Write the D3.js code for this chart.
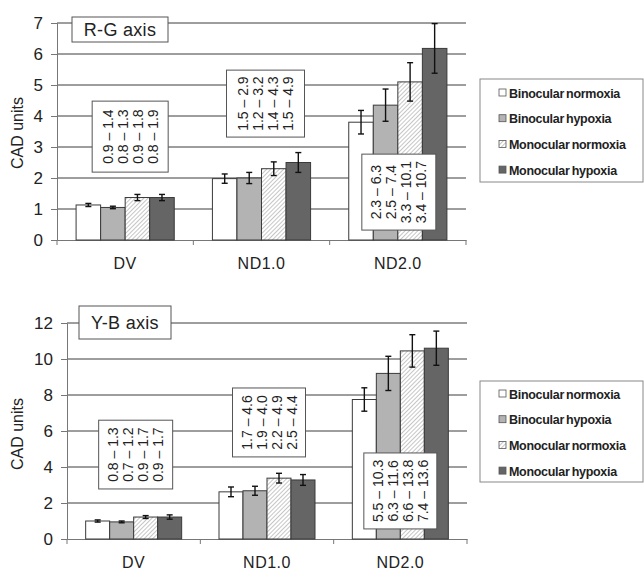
<!DOCTYPE html>
<html>
<head>
  <meta charset="utf-8">
  <title>CAD units</title>
  <script src="https://cdn.jsdelivr.net/npm/d3@7/dist/d3.min.js"></script>
  <style>
    body{ margin:0; background:#fff; }
    text{ font-family: "Liberation Sans", Arial, sans-serif; fill:#222; }
  </style>
</head>
<body>
<div id="container"></div>
<script>
  var categories = ["DV", "ND1.0", "ND2.0"];
  var series = ["Binocular normoxia", "Binocular hypoxia", "Monocular normoxia", "Monocular hypoxia"];

  // R-G axis: means and error (+/-) per category, per series
  var rgMeans = [[1.13, 1.05, 1.37, 1.37], [1.98, 2.0, 2.3, 2.5], [3.8, 4.35, 5.1, 6.18]];
  var rgErr   = [[0.05, 0.04, 0.1, 0.1], [0.15, 0.18, 0.22, 0.32], [0.38, 0.52, 0.62, 0.8]];
  var rgRanges = [["0.9 – 1.4", "0.8 – 1.3", "0.9 – 1.8", "0.8 – 1.9"],
                  ["1.5 – 2.9", "1.2 – 3.2", "1.4 – 4.3", "1.5 – 4.9"],
                  ["2.3 – 6.3", "2.5 – 7.4", "3.3 – 10.1", "3.4 – 10.7"]];
  var rgTicks = [0, 1, 2, 3, 4, 5, 6, 7];

  // Y-B axis
  var ybMeans = [[1.0, 0.95, 1.22, 1.22], [2.62, 2.68, 3.38, 3.28], [7.75, 9.2, 10.45, 10.6]];
  var ybErr   = [[0.06, 0.05, 0.08, 0.12], [0.27, 0.25, 0.27, 0.3], [0.65, 0.95, 0.9, 0.95]];
  var ybRanges = [["0.8 – 1.3", "0.7 – 1.2", "0.9 – 1.7", "0.9 – 1.7"],
                  ["1.7 – 4.6", "1.9 – 4.0", "2.2 – 4.9", "2.5 – 4.4"],
                  ["5.5 – 10.3", "6.3 – 11.6", "6.6 – 13.8", "7.4 – 13.6"]];
  var ybTicks = [0, 2, 4, 6, 8, 10, 12];

  var fills = ["#ffffff", "#b3b3b3", "url(#hatch)", "#656565"];

  var svg = d3.select("#container").append("svg")
      .attr("width", 644)
      .attr("height", 574);

  var defs = svg.append("defs");
  var pat = defs.append("pattern")
      .attr("id", "hatch")
      .attr("patternUnits", "userSpaceOnUse")
      .attr("width", 3).attr("height", 3)
      .attr("patternTransform", "rotate(45)");
  pat.append("rect").attr("width", 3).attr("height", 3).attr("fill", "#fff");
  pat.append("line").attr("x1", 0).attr("y1", 0).attr("x2", 0).attr("y2", 3)
      .attr("stroke", "#a0a0a0").attr("stroke-width", 1.2);

  function drawPanel(p){
    var g = svg.append("g");

    var x0 = d3.scaleBand().domain(categories).range([p.left, p.right]);
    var bw = x0.bandwidth();
    var x1 = d3.scaleBand().domain(series).range([bw * 0.14, bw * 0.86]);
    var y = d3.scaleLinear().domain([0, p.max]).range([p.bottom, p.top]);

    // gridlines
    g.selectAll(".grid").data(p.ticks.filter(function(d){ return d > 0; }))
      .enter().append("line")
      .attr("x1", p.left).attr("x2", p.right)
      .attr("y1", function(d){ return y(d); }).attr("y2", function(d){ return y(d); })
      .attr("stroke", "#3c3c3c").attr("stroke-width", 1);

    // y axis
    var yAxis = d3.axisLeft(y).tickValues(p.ticks).tickFormat(d3.format("d")).tickSize(6).tickPadding(8);
    var ya = g.append("g").attr("transform", "translate(" + p.left + ",0)").call(yAxis);
    ya.selectAll(".tick text").style("font-size", "17px").attr("fill", "#222");
    ya.selectAll(".tick line, .domain").attr("stroke", "#777");

    // x axis
    var xa = g.append("g").attr("transform", "translate(0," + p.bottom + ")")
      .call(d3.axisBottom(x0).tickSize(0).tickPadding(18));
    xa.select(".domain").attr("stroke", "#777");
    xa.selectAll(".tick text").style("font-size", "16px").style("letter-spacing", "0.5px").attr("fill", "#222");
    g.selectAll(".sep").data(categories.concat([null]))
      .enter().append("line")
      .attr("x1", function(d, i){ return p.left + i * bw; })
      .attr("x2", function(d, i){ return p.left + i * bw; })
      .attr("y1", p.bottom).attr("y2", p.bottom + 5)
      .attr("stroke", "#777");

    // bars
    var groups = g.selectAll(".grp").data(categories).enter().append("g")
      .attr("transform", function(d){ return "translate(" + x0(d) + ",0)"; });

    groups.each(function(c, ci){
      var gg = d3.select(this);
      var rows = series.map(function(s, si){
        return {s: s, i: si, v: p.means[ci][si], e: p.err[ci][si]};
      });
      gg.selectAll("rect").data(rows).enter().append("rect")
        .attr("x", function(d){ return x1(d.s); })
        .attr("width", x1.bandwidth())
        .attr("y", function(d){ return y(d.v); })
        .attr("height", function(d){ return y(0) - y(d.v); })
        .attr("fill", function(d){ return fills[d.i]; })
        .attr("stroke", "#3a3a3a").attr("stroke-width", 1);

      var eb = gg.selectAll(".err").data(rows).enter().append("g")
        .attr("stroke", "#111").attr("stroke-width", 1.4);
      eb.append("line")
        .attr("x1", function(d){ return x1(d.s) + x1.bandwidth() / 2; })
        .attr("x2", function(d){ return x1(d.s) + x1.bandwidth() / 2; })
        .attr("y1", function(d){ return y(d.v - d.e); })
        .attr("y2", function(d){ return y(d.v + d.e); });
      [-1, 1].forEach(function(k){
        eb.append("line")
          .attr("x1", function(d){ return x1(d.s) + x1.bandwidth() / 2 - 3; })
          .attr("x2", function(d){ return x1(d.s) + x1.bandwidth() / 2 + 3; })
          .attr("y1", function(d){ return y(d.v + k * d.e); })
          .attr("y2", function(d){ return y(d.v + k * d.e); });
      });
    });

    // range boxes with rotated text
    p.boxes.forEach(function(b, ci){
      var cx = x0(categories[ci]) + bw / 2 + b.dx;
      var yt = y(b.hi), yb = y(b.lo);
      g.append("rect")
        .attr("x", cx - b.w / 2).attr("y", yt)
        .attr("width", b.w).attr("height", yb - yt)
        .attr("fill", "#fff").attr("stroke", "#555").attr("stroke-width", 1);
      var cy = (yt + yb) / 2;
      p.ranges[ci].forEach(function(t, k){
        var tx = cx + (k - 1.5) * 15 + 5;
        g.append("text")
          .attr("transform", "translate(" + tx + "," + cy + ") rotate(-90)")
          .attr("text-anchor", "middle")
          .style("font-size", "14px")
          .text(t);
      });
    });

    // panel title
    g.append("rect")
      .attr("x", p.title.x).attr("y", p.title.y)
      .attr("width", p.title.w).attr("height", p.title.h)
      .attr("fill", "#fff").attr("stroke", "#555");
    g.append("text")
      .attr("x", p.title.x + p.title.w / 2).attr("y", p.title.y + p.title.h / 2 + 6)
      .attr("text-anchor", "middle")
      .style("font-size", "18px").style("letter-spacing", "0.3px")
      .text(p.name);

    // y label
    g.append("text")
      .attr("transform", "translate(23," + p.labelY + ") rotate(-90)")
      .attr("text-anchor", "middle")
      .style("font-size", "16px")
      .text("CAD units");

    // legend
    var lg = g.append("g").attr("transform", "translate(480," + p.legY + ")");
    lg.append("rect").attr("width", 163).attr("height", p.legH)
      .attr("fill", "#fff").attr("stroke", "#888");
    var items = lg.selectAll(".li").data(series).enter().append("g")
      .attr("transform", function(d, i){ return "translate(19," + (p.legFirst + i * 25.7) + ")"; });
    items.append("rect").attr("x", 0).attr("y", -4).attr("width", 7).attr("height", 7)
      .attr("fill", function(d, i){ return fills[i]; })
      .attr("stroke", "#555").attr("stroke-width", 0.8);
    items.append("text").attr("x", 10).attr("y", 4.5)
      .style("font-size", "12.5px").style("font-weight", "bold")
      .style("letter-spacing", "-0.3px").style("word-spacing", "-1px")
      .text(function(d){ return d; });
  }

  drawPanel({
    name: "R-G axis", means: rgMeans, err: rgErr, ranges: rgRanges, ticks: rgTicks, max: 7,
    left: 57, right: 466, top: 23, bottom: 240, labelY: 133,
    boxes: [{dx: 5, w: 76, lo: 2.19, hi: 4.48}, {dx: 4, w: 78, lo: 3.32, hi: 5.48}, {dx: 1, w: 74, lo: 0.32, hi: 2.77}],
    title: {x: 72, y: 17, w: 96, h: 25},
    legY: 79, legH: 103, legFirst: 14
  });

  drawPanel({
    name: "Y-B axis", means: ybMeans, err: ybErr, ranges: ybRanges, ticks: ybTicks, max: 12,
    left: 67, right: 467, top: 323, bottom: 539, labelY: 434,
    boxes: [{dx: 2, w: 74, lo: 2.78, hi: 6.6}, {dx: 2, w: 73, lo: 4.56, hi: 8.39}, {dx: 0, w: 73, lo: 0.56, hi: 4.78}],
    title: {x: 79, y: 306, w: 92, h: 33},
    legY: 381, legH: 101, legFirst: 13
  });
</script>
</body>
</html>
